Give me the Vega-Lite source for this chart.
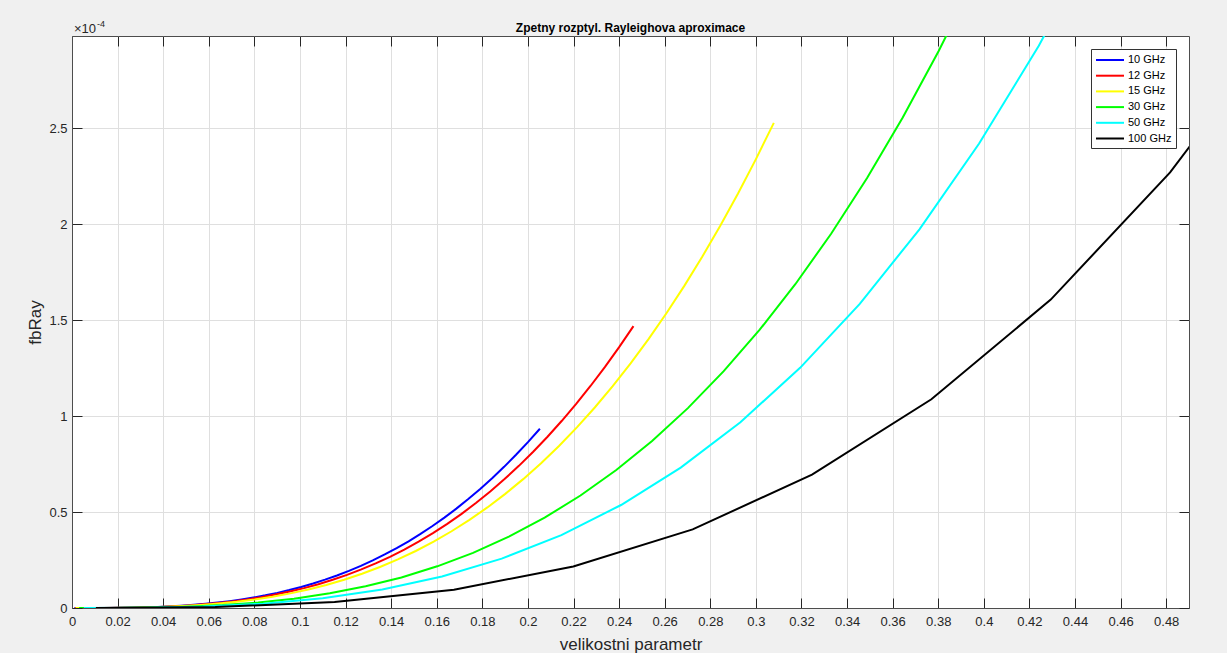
{
  "$schema": "https://vega.github.io/schema/vega-lite/v6.json",
  "width": 1117,
  "height": 572,
  "autosize": "none",
  "padding": {"left": 72, "top": 36, "right": 38, "bottom": 45},
  "background": "#f0f0f0",
  "config": {
    "font": "Liberation Sans",
    "view": {"stroke": "#4d4d4d", "strokeWidth": 1, "fill": "#ffffff"}
  },
  "title": {
    "text": "Zpetny rozptyl. Rayleighova aproximace",
    "fontSize": 12,
    "fontWeight": "bold",
    "color": "#000000",
    "anchor": "middle",
    "frame": "group",
    "offset": -15
  },
  "datasets": {
    "curves": [
      {"f": "10 GHz", "x": 0.001047, "fbRay": 0},
      {"f": "10 GHz", "x": 0.006283, "fbRay": 0.00003e-4},
      {"f": "10 GHz", "x": 0.011519, "fbRay": 0.00017e-4},
      {"f": "10 GHz", "x": 0.016755, "fbRay": 0.00051e-4},
      {"f": "10 GHz", "x": 0.021991, "fbRay": 0.00115e-4},
      {"f": "10 GHz", "x": 0.027227, "fbRay": 0.00218e-4},
      {"f": "10 GHz", "x": 0.032463, "fbRay": 0.00369e-4},
      {"f": "10 GHz", "x": 0.037699, "fbRay": 0.00579e-4},
      {"f": "10 GHz", "x": 0.042935, "fbRay": 0.00855e-4},
      {"f": "10 GHz", "x": 0.048171, "fbRay": 0.01207e-4},
      {"f": "10 GHz", "x": 0.053407, "fbRay": 0.01645e-4},
      {"f": "10 GHz", "x": 0.058643, "fbRay": 0.02178e-4},
      {"f": "10 GHz", "x": 0.063879, "fbRay": 0.02815e-4},
      {"f": "10 GHz", "x": 0.069115, "fbRay": 0.03566e-4},
      {"f": "10 GHz", "x": 0.074351, "fbRay": 0.04439e-4},
      {"f": "10 GHz", "x": 0.079587, "fbRay": 0.05444e-4},
      {"f": "10 GHz", "x": 0.084823, "fbRay": 0.06591e-4},
      {"f": "10 GHz", "x": 0.090059, "fbRay": 0.07889e-4},
      {"f": "10 GHz", "x": 0.095295, "fbRay": 0.09346e-4},
      {"f": "10 GHz", "x": 0.100531, "fbRay": 0.10973e-4},
      {"f": "10 GHz", "x": 0.105767, "fbRay": 0.12778e-4},
      {"f": "10 GHz", "x": 0.111003, "fbRay": 0.14772e-4},
      {"f": "10 GHz", "x": 0.116239, "fbRay": 0.16962e-4},
      {"f": "10 GHz", "x": 0.121475, "fbRay": 0.19359e-4},
      {"f": "10 GHz", "x": 0.126711, "fbRay": 0.21972e-4},
      {"f": "10 GHz", "x": 0.131947, "fbRay": 0.24810e-4},
      {"f": "10 GHz", "x": 0.137183, "fbRay": 0.27882e-4},
      {"f": "10 GHz", "x": 0.142419, "fbRay": 0.31198e-4},
      {"f": "10 GHz", "x": 0.147655, "fbRay": 0.34767e-4},
      {"f": "10 GHz", "x": 0.152891, "fbRay": 0.38598e-4},
      {"f": "10 GHz", "x": 0.158127, "fbRay": 0.42701e-4},
      {"f": "10 GHz", "x": 0.163363, "fbRay": 0.47085e-4},
      {"f": "10 GHz", "x": 0.168599, "fbRay": 0.51759e-4},
      {"f": "10 GHz", "x": 0.173835, "fbRay": 0.56733e-4},
      {"f": "10 GHz", "x": 0.179071, "fbRay": 0.62015e-4},
      {"f": "10 GHz", "x": 0.184307, "fbRay": 0.67616e-4},
      {"f": "10 GHz", "x": 0.189543, "fbRay": 0.73544e-4},
      {"f": "10 GHz", "x": 0.194779, "fbRay": 0.79809e-4},
      {"f": "10 GHz", "x": 0.200015, "fbRay": 0.86419e-4},
      {"f": "10 GHz", "x": 0.205251, "fbRay": 0.93385e-4},

      {"f": "12 GHz", "x": 0.001257, "fbRay": 0},
      {"f": "12 GHz", "x": 0.007540, "fbRay": 0.00004e-4},
      {"f": "12 GHz", "x": 0.013823, "fbRay": 0.00026e-4},
      {"f": "12 GHz", "x": 0.020106, "fbRay": 0.00080e-4},
      {"f": "12 GHz", "x": 0.026389, "fbRay": 0.00181e-4},
      {"f": "12 GHz", "x": 0.032672, "fbRay": 0.00343e-4},
      {"f": "12 GHz", "x": 0.038956, "fbRay": 0.00581e-4},
      {"f": "12 GHz", "x": 0.045239, "fbRay": 0.00910e-4},
      {"f": "12 GHz", "x": 0.051522, "fbRay": 0.01344e-4},
      {"f": "12 GHz", "x": 0.057805, "fbRay": 0.01899e-4},
      {"f": "12 GHz", "x": 0.064088, "fbRay": 0.02587e-4},
      {"f": "12 GHz", "x": 0.070372, "fbRay": 0.03426e-4},
      {"f": "12 GHz", "x": 0.076655, "fbRay": 0.04428e-4},
      {"f": "12 GHz", "x": 0.082938, "fbRay": 0.05608e-4},
      {"f": "12 GHz", "x": 0.089221, "fbRay": 0.06982e-4},
      {"f": "12 GHz", "x": 0.095504, "fbRay": 0.08563e-4},
      {"f": "12 GHz", "x": 0.101788, "fbRay": 0.10367e-4},
      {"f": "12 GHz", "x": 0.108071, "fbRay": 0.12407e-4},
      {"f": "12 GHz", "x": 0.114354, "fbRay": 0.14700e-4},
      {"f": "12 GHz", "x": 0.120637, "fbRay": 0.17258e-4},
      {"f": "12 GHz", "x": 0.126920, "fbRay": 0.20098e-4},
      {"f": "12 GHz", "x": 0.133204, "fbRay": 0.23233e-4},
      {"f": "12 GHz", "x": 0.139487, "fbRay": 0.26678e-4},
      {"f": "12 GHz", "x": 0.145770, "fbRay": 0.30448e-4},
      {"f": "12 GHz", "x": 0.152053, "fbRay": 0.34557e-4},
      {"f": "12 GHz", "x": 0.158336, "fbRay": 0.39020e-4},
      {"f": "12 GHz", "x": 0.164620, "fbRay": 0.43852e-4},
      {"f": "12 GHz", "x": 0.170903, "fbRay": 0.49068e-4},
      {"f": "12 GHz", "x": 0.177186, "fbRay": 0.54681e-4},
      {"f": "12 GHz", "x": 0.183469, "fbRay": 0.60707e-4},
      {"f": "12 GHz", "x": 0.189752, "fbRay": 0.67160e-4},
      {"f": "12 GHz", "x": 0.196036, "fbRay": 0.74054e-4},
      {"f": "12 GHz", "x": 0.202319, "fbRay": 0.81405e-4},
      {"f": "12 GHz", "x": 0.208602, "fbRay": 0.89229e-4},
      {"f": "12 GHz", "x": 0.214885, "fbRay": 0.97535e-4},
      {"f": "12 GHz", "x": 0.221168, "fbRay": 1.06345e-4},
      {"f": "12 GHz", "x": 0.227452, "fbRay": 1.15668e-4},
      {"f": "12 GHz", "x": 0.233735, "fbRay": 1.25522e-4},
      {"f": "12 GHz", "x": 0.240018, "fbRay": 1.35919e-4},
      {"f": "12 GHz", "x": 0.246301, "fbRay": 1.46874e-4},

      {"f": "15 GHz", "x": 0.001571, "fbRay": 0},
      {"f": "15 GHz", "x": 0.009425, "fbRay": 0.00007e-4},
      {"f": "15 GHz", "x": 0.017279, "fbRay": 0.00045e-4},
      {"f": "15 GHz", "x": 0.025133, "fbRay": 0.00137e-4},
      {"f": "15 GHz", "x": 0.032987, "fbRay": 0.00311e-4},
      {"f": "15 GHz", "x": 0.040841, "fbRay": 0.00590e-4},
      {"f": "15 GHz", "x": 0.048695, "fbRay": 0.01000e-4},
      {"f": "15 GHz", "x": 0.056549, "fbRay": 0.01566e-4},
      {"f": "15 GHz", "x": 0.064403, "fbRay": 0.02313e-4},
      {"f": "15 GHz", "x": 0.072257, "fbRay": 0.03267e-4},
      {"f": "15 GHz", "x": 0.080111, "fbRay": 0.04452e-4},
      {"f": "15 GHz", "x": 0.087965, "fbRay": 0.05894e-4},
      {"f": "15 GHz", "x": 0.095819, "fbRay": 0.07618e-4},
      {"f": "15 GHz", "x": 0.103673, "fbRay": 0.09650e-4},
      {"f": "15 GHz", "x": 0.111527, "fbRay": 0.12013e-4},
      {"f": "15 GHz", "x": 0.119381, "fbRay": 0.14734e-4},
      {"f": "15 GHz", "x": 0.127235, "fbRay": 0.17837e-4},
      {"f": "15 GHz", "x": 0.135089, "fbRay": 0.21349e-4},
      {"f": "15 GHz", "x": 0.142943, "fbRay": 0.25293e-4},
      {"f": "15 GHz", "x": 0.150797, "fbRay": 0.29696e-4},
      {"f": "15 GHz", "x": 0.158651, "fbRay": 0.34582e-4},
      {"f": "15 GHz", "x": 0.166505, "fbRay": 0.39976e-4},
      {"f": "15 GHz", "x": 0.174359, "fbRay": 0.45905e-4},
      {"f": "15 GHz", "x": 0.182213, "fbRay": 0.52391e-4},
      {"f": "15 GHz", "x": 0.190067, "fbRay": 0.59460e-4},
      {"f": "15 GHz", "x": 0.197921, "fbRay": 0.67141e-4},
      {"f": "15 GHz", "x": 0.205775, "fbRay": 0.75457e-4},
      {"f": "15 GHz", "x": 0.213629, "fbRay": 0.84430e-4},
      {"f": "15 GHz", "x": 0.221483, "fbRay": 0.94089e-4},
      {"f": "15 GHz", "x": 0.229337, "fbRay": 1.04457e-4},
      {"f": "15 GHz", "x": 0.237191, "fbRay": 1.15560e-4},
      {"f": "15 GHz", "x": 0.245045, "fbRay": 1.27425e-4},
      {"f": "15 GHz", "x": 0.252899, "fbRay": 1.40075e-4},
      {"f": "15 GHz", "x": 0.260753, "fbRay": 1.53534e-4},
      {"f": "15 GHz", "x": 0.268607, "fbRay": 1.67824e-4},
      {"f": "15 GHz", "x": 0.276461, "fbRay": 1.82986e-4},
      {"f": "15 GHz", "x": 0.284315, "fbRay": 1.99031e-4},
      {"f": "15 GHz", "x": 0.292169, "fbRay": 2.15982e-4},
      {"f": "15 GHz", "x": 0.300023, "fbRay": 2.33870e-4},
      {"f": "15 GHz", "x": 0.307877, "fbRay": 2.52719e-4},

      {"f": "30 GHz", "x": 0.003142, "fbRay": 0},
      {"f": "30 GHz", "x": 0.018850, "fbRay": 0.00035e-4},
      {"f": "30 GHz", "x": 0.034558, "fbRay": 0.00218e-4},
      {"f": "30 GHz", "x": 0.050266, "fbRay": 0.00671e-4},
      {"f": "30 GHz", "x": 0.065974, "fbRay": 0.01516e-4},
      {"f": "30 GHz", "x": 0.081682, "fbRay": 0.02878e-4},
      {"f": "30 GHz", "x": 0.097390, "fbRay": 0.04877e-4},
      {"f": "30 GHz", "x": 0.113098, "fbRay": 0.07638e-4},
      {"f": "30 GHz", "x": 0.128806, "fbRay": 0.11284e-4},
      {"f": "30 GHz", "x": 0.144514, "fbRay": 0.15935e-4},
      {"f": "30 GHz", "x": 0.160222, "fbRay": 0.21717e-4},
      {"f": "30 GHz", "x": 0.175930, "fbRay": 0.28751e-4},
      {"f": "30 GHz", "x": 0.191638, "fbRay": 0.37160e-4},
      {"f": "30 GHz", "x": 0.207346, "fbRay": 0.47068e-4},
      {"f": "30 GHz", "x": 0.223054, "fbRay": 0.58596e-4},
      {"f": "30 GHz", "x": 0.238762, "fbRay": 0.71867e-4},
      {"f": "30 GHz", "x": 0.254470, "fbRay": 0.87005e-4},
      {"f": "30 GHz", "x": 0.270178, "fbRay": 1.04132e-4},
      {"f": "30 GHz", "x": 0.285886, "fbRay": 1.23371e-4},
      {"f": "30 GHz", "x": 0.301594, "fbRay": 1.44845e-4},
      {"f": "30 GHz", "x": 0.317302, "fbRay": 1.68676e-4},
      {"f": "30 GHz", "x": 0.333010, "fbRay": 1.94987e-4},
      {"f": "30 GHz", "x": 0.348718, "fbRay": 2.23901e-4},
      {"f": "30 GHz", "x": 0.364426, "fbRay": 2.55544e-4},
      {"f": "30 GHz", "x": 0.380134, "fbRay": 2.90031e-4},
      {"f": "30 GHz", "x": 0.395842, "fbRay": 3.27492e-4},

      {"f": "50 GHz", "x": 0.005236, "fbRay": 0},
      {"f": "50 GHz", "x": 0.031416, "fbRay": 0.00119e-4},
      {"f": "50 GHz", "x": 0.057596, "fbRay": 0.00734e-4},
      {"f": "50 GHz", "x": 0.083776, "fbRay": 0.02258e-4},
      {"f": "50 GHz", "x": 0.109956, "fbRay": 0.05105e-4},
      {"f": "50 GHz", "x": 0.136136, "fbRay": 0.09685e-4},
      {"f": "50 GHz", "x": 0.162316, "fbRay": 0.16422e-4},
      {"f": "50 GHz", "x": 0.188496, "fbRay": 0.25718e-4},
      {"f": "50 GHz", "x": 0.214676, "fbRay": 0.37991e-4},
      {"f": "50 GHz", "x": 0.240856, "fbRay": 0.53654e-4},
      {"f": "50 GHz", "x": 0.267036, "fbRay": 0.73121e-4},
      {"f": "50 GHz", "x": 0.293216, "fbRay": 0.96804e-4},
      {"f": "50 GHz", "x": 0.319396, "fbRay": 1.25118e-4},
      {"f": "50 GHz", "x": 0.345576, "fbRay": 1.58476e-4},
      {"f": "50 GHz", "x": 0.371756, "fbRay": 1.97291e-4},
      {"f": "50 GHz", "x": 0.397936, "fbRay": 2.41975e-4},
      {"f": "50 GHz", "x": 0.424116, "fbRay": 2.92945e-4},
      {"f": "50 GHz", "x": 0.450296, "fbRay": 3.50611e-4},

      {"f": "100 GHz", "x": 0.010472, "fbRay": 0.00002e-4},
      {"f": "100 GHz", "x": 0.062832, "fbRay": 0.00504e-4},
      {"f": "100 GHz", "x": 0.115192, "fbRay": 0.03103e-4},
      {"f": "100 GHz", "x": 0.167552, "fbRay": 0.09549e-4},
      {"f": "100 GHz", "x": 0.219912, "fbRay": 0.21590e-4},
      {"f": "100 GHz", "x": 0.272272, "fbRay": 0.40974e-4},
      {"f": "100 GHz", "x": 0.324632, "fbRay": 0.69450e-4},
      {"f": "100 GHz", "x": 0.376992, "fbRay": 1.08766e-4},
      {"f": "100 GHz", "x": 0.429352, "fbRay": 1.60671e-4},
      {"f": "100 GHz", "x": 0.481712, "fbRay": 2.26913e-4},
      {"f": "100 GHz", "x": 0.534072, "fbRay": 3.09240e-4}
    ]
  },
  "layer": [
    {
      "data": {"name": "curves"},
      "mark": {"type": "line", "strokeWidth": 2, "clip": true},
      "encoding": {
        "x": {
          "field": "x",
          "type": "quantitative",
          "scale": {"domain": [0, 0.49], "nice": false, "zero": false},
          "axis": {
            "orient": "bottom",
            "values": [0, 0.02, 0.04, 0.06, 0.08, 0.1, 0.12, 0.14, 0.16, 0.18, 0.2, 0.22, 0.24, 0.26, 0.28, 0.3, 0.32, 0.34, 0.36, 0.38, 0.4, 0.42, 0.44, 0.46, 0.48],
            "format": "~g",
            "labelFlush": false,
            "labelOverlap": false,
            "labelFontSize": 13,
            "labelColor": "#262626",
            "labelPadding": 17,
            "tickSize": -10,
            "tickColor": "#262626",
            "domainColor": "#4d4d4d",
            "grid": true,
            "gridColor": "#dfdfdf",
            "title": "velikostni parametr",
            "titleFontSize": 17,
            "titleFontWeight": "normal",
            "titleColor": "#262626",
            "titlePadding": 8
          }
        },
        "y": {
          "field": "fbRay",
          "type": "quantitative",
          "scale": {"domain": [0, 0.000298], "nice": false, "zero": false},
          "axis": {
            "orient": "left",
            "values": [0, 0.00005, 0.0001, 0.00015, 0.0002, 0.00025],
            "labelExpr": "format(datum.value * 10000, '~g')",
            "labelFlush": false,
            "labelOverlap": false,
            "labelFontSize": 13,
            "labelColor": "#262626",
            "labelPadding": 15,
            "tickSize": -10,
            "tickColor": "#262626",
            "domainColor": "#4d4d4d",
            "grid": true,
            "gridColor": "#dfdfdf",
            "title": "fbRay",
            "titleFontSize": 17,
            "titleFontWeight": "normal",
            "titleColor": "#262626",
            "titlePadding": 4
          }
        },
        "color": {
          "field": "f",
          "type": "nominal",
          "scale": {
            "domain": ["10 GHz", "12 GHz", "15 GHz", "30 GHz", "50 GHz", "100 GHz"],
            "range": ["#0000ff", "#ff0000", "#ffff00", "#00ff00", "#00ffff", "#000000"]
          },
          "legend": {
            "title": null,
            "orient": "top-right",
            "offset": 13,
            "fillColor": "#ffffff",
            "strokeColor": "#333333",
            "padding": 4,
            "symbolType": "M-2.33,0H2.33",
            "symbolStrokeWidth": 2,
            "symbolSize": 144,
            "symbolOffset": 8,
            "rowPadding": 3.7,
            "labelFontSize": 11,
            "labelColor": "#000000",
            "labelOffset": 11
          }
        }
      }
    },
    {
      "data": {"values": [{}]},
      "mark": {"type": "text", "align": "left", "baseline": "alphabetic", "dx": 2, "dy": -3, "fontSize": 13, "color": "#262626"},
      "encoding": {
        "x": {
          "datum": 0,
          "type": "quantitative",
          "scale": {"domain": [0, 0.49], "nice": false, "zero": false},
          "axis": {
            "orient": "top",
            "values": [0, 0.02, 0.04, 0.06, 0.08, 0.1, 0.12, 0.14, 0.16, 0.18, 0.2, 0.22, 0.24, 0.26, 0.28, 0.3, 0.32, 0.34, 0.36, 0.38, 0.4, 0.42, 0.44, 0.46, 0.48],
            "labels": false,
            "domain": false,
            "grid": false,
            "tickSize": -10,
            "tickColor": "#262626",
            "title": null
          }
        },
        "y": {
          "datum": 0.000298,
          "type": "quantitative",
          "scale": {"domain": [0, 0.000298], "nice": false, "zero": false},
          "axis": {
            "orient": "right",
            "values": [0, 0.00005, 0.0001, 0.00015, 0.0002, 0.00025],
            "labels": false,
            "domain": false,
            "grid": false,
            "tickSize": -10,
            "tickColor": "#262626",
            "title": null
          }
        },
        "text": {"value": "×10"}
      }
    },
    {
      "data": {"values": [{}]},
      "mark": {"type": "text", "align": "left", "baseline": "alphabetic", "dx": 25, "dy": -9, "fontSize": 9, "color": "#262626"},
      "encoding": {
        "x": {"datum": 0, "type": "quantitative", "scale": {"domain": [0, 0.49], "nice": false, "zero": false}, "axis": null},
        "y": {"datum": 0.000298, "type": "quantitative", "scale": {"domain": [0, 0.000298], "nice": false, "zero": false}, "axis": null},
        "text": {"value": "-4"}
      }
    }
  ],
  "resolve": {"axis": {"x": "independent", "y": "independent"}}
}
